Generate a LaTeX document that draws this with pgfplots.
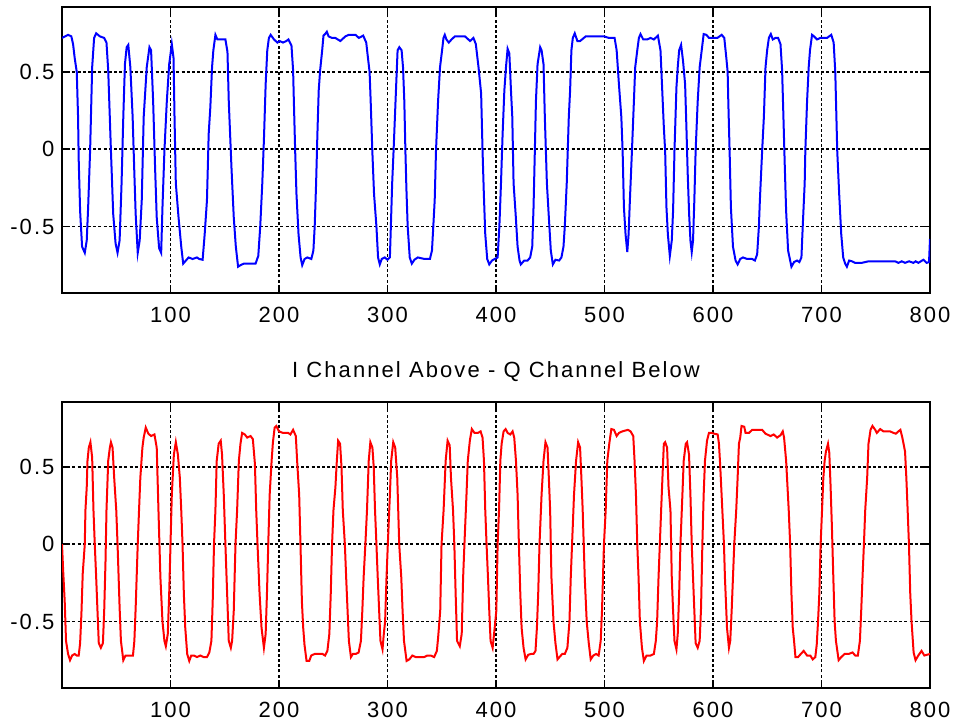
\documentclass[border=0pt]{standalone}
\usepackage{pgfplots}
\pgfplotsset{compat=1.18}
\usepackage{fontspec}
\setmainfont{Liberation Sans}[LetterSpace=9.5]
\newcommand{\myfont}{\fontsize{22}{26}\selectfont}
\pgfplotsset{
  myaxis/.style={
    scale only axis, width=868pt, height=286pt, anchor=south west,
    xmin=0, xmax=800, ymin=-0.93, ymax=0.92,
    xtick={100,200,300,400,500,600,700,800},
    xticklabels={100,200,300,400,500,600,700,800},
    ytick={-0.5,0,0.5}, yticklabels={-0.5,0,0.5},
    tick align=inside, major tick length=8pt,
    tick style={black, line width=1.6pt},
    axis line style={black, line width=1.8pt},
    grid=major,
    grid style={black, line width=1.7pt, dash pattern=on 3pt off 2.2pt},
    tick label style={font=\myfont},
    xticklabel style={yshift=-7pt},
    title style={font=\myfont},
  }
}
\begin{document}
\myfont
\begin{tikzpicture}
\useasboundingbox (0pt,0pt) rectangle (956pt,728pt);
\begin{axis}[myaxis, at={(62pt,435pt)}]
\addplot[blue, line width=2pt] coordinates {
(0,0.72)(5.6,0.74)(8.6,0.73)(10.2,0.68)(11.7,0.59)(13.6,0.50)(14.8,0.21)(15.4,-0.07)(16.7,-0.40)(18.5,-0.63)(21.0,-0.67)(22.8,-0.59)(24.1,-0.375)(25.9,-0.01)(27.8,0.53)(29.6,0.72)(31.5,0.75)(34.9,0.73)(38.9,0.72)(41.0,0.69)(42.6,0.51)(45.1,-0.01)(47.2,-0.42)(49.4,-0.61)(51.2,-0.67)(53.1,-0.59)(54.9,-0.22)(56.5,0.21)(58.0,0.55)(59.6,0.66)(61.1,0.675)(63.0,0.53)(65.1,0.21)(66.7,-0.16)(67.9,-0.42)(69.8,-0.67)(71.6,-0.59)(73.5,-0.33)(75.3,0.21)(78.1,0.53)(80.6,0.66)(82.1,0.64)(84.0,0.31)(85.8,-0.12)(87.3,-0.44)(89.5,-0.64)(91.4,-0.67)(92.6,-0.375)(94.4,-0.01)(96.6,0.31)(98.8,0.55)(101.2,0.68)(102.8,0.59)(103.7,0.21)(104.9,-0.22)(107.4,-0.44)(109.9,-0.63)(111.7,-0.74)(114.2,-0.72)(116.7,-0.70)(120.4,-0.71)(124.4,-0.70)(126.5,-0.71)(129.6,-0.715)(131.5,-0.55)(133.6,-0.33)(135.2,0.10)(136.7,0.27)(138.3,0.53)(139.5,0.64)(141.4,0.74)(143.2,0.71)(145.7,0.71)(148.1,0.71)(150.6,0.71)(152.5,0.63)(153.7,0.31)(156.2,-0.12)(158.3,-0.44)(160.2,-0.63)(162.3,-0.76)(164.5,-0.75)(167.6,-0.74)(171.6,-0.74)(175.3,-0.74)(178.4,-0.74)(180.9,-0.69)(182.7,-0.50)(184.6,-0.22)(186.1,0.06)(187.7,0.42)(189.2,0.64)(190.7,0.72)(192.3,0.74)(195.4,0.71)(198.5,0.69)
(200.6,0.70)(203.7,0.69)(206.8,0.70)(208.7,0.71)(211.5,0.67)(213.0,0.51)(213.7,0.31)(214.9,-0.01)(216.1,-0.29)(218.0,-0.55)(219.9,-0.70)(221.4,-0.75)(223.6,-0.71)(226.1,-0.70)(229.8,-0.71)(231.7,-0.655)(232.9,-0.50)(234.2,-0.22)(235.4,0.10)(236.6,0.38)(237.9,0.51)(239.8,0.64)(241.0,0.735)(242.5,0.745)(244.1,0.76)(245.7,0.73)(248.8,0.72)(251.9,0.72)(256.5,0.70)(261.2,0.73)(264.3,0.74)(270.5,0.74)(273.6,0.72)(277.6,0.735)(280.4,0.69)(282.0,0.59)(283.5,0.50)(284.5,0.31)(286.0,-0.01)(287.6,-0.29)(289.8,-0.50)(291.3,-0.70)(292.9,-0.745)(294.7,-0.71)(297.5,-0.70)(300.0,-0.715)(302.2,-0.70)(303.1,-0.50)(304.3,-0.22)(305.6,-0.01)(307.8,0.38)(309.3,0.64)(310.9,0.66)(313.0,0.64)(314.3,0.53)(315.5,0.31)(316.5,-0.01)(317.4,-0.25)(318.6,-0.50)(320.5,-0.70)(322.4,-0.74)(324.8,-0.715)(327.9,-0.70)(334.2,-0.71)(339.1,-0.71)(341.0,-0.655)(342.2,-0.50)(343.5,-0.33)(344.7,-0.01)(346.6,0.31)(348.4,0.53)(350.3,0.64)(351.6,0.72)(352.8,0.74)(354.3,0.71)(356.5,0.69)(359.0,0.71)(362.1,0.73)(371.4,0.73)(376.1,0.70)(379.2,0.72)(381.4,0.68)(383.9,0.53)(386.3,0.36)(387.6,-0.01)(388.8,-0.29)(390.1,-0.55)(391.9,-0.71)(393.8,-0.745)(396.3,-0.72)(398.8,-0.71)(401.5,-0.70)
(403.1,-0.50)(404.6,-0.22)(406.1,0.10)(407.7,0.38)(409.2,0.53)(410.7,0.65)(412.3,0.62)(413.8,0.38)(415.0,0.21)(416.2,-0.22)(418.1,-0.42)(419.9,-0.63)(421.7,-0.72)(422.9,-0.745)(426.0,-0.72)(429.1,-0.72)(431.5,-0.70)(433.4,-0.63)(434.6,-0.375)(435.8,-0.01)(436.8,0.31)(438.3,0.55)(440.7,0.66)(442.0,0.64)(443.8,0.55)(445.0,0.21)(446.9,-0.22)(448.7,-0.44)(450.5,-0.655)(452.4,-0.745)(454.8,-0.715)(458.2,-0.72)(460.3,-0.70)(462.2,-0.63)(463.4,-0.50)(465.2,-0.22)(467.1,0.21)(468.3,0.38)(469.5,0.64)(470.8,0.72)(472.6,0.75)(475.0,0.70)(477.5,0.70)(482.7,0.73)(499.5,0.73)(504.1,0.72)(509.3,0.72)(511.2,0.64)(513.3,0.42)(515.5,0.21)(516.7,-0.01)(517.9,-0.375)(519.4,-0.55)(521.0,-0.665)(522.2,-0.55)(523.4,-0.33)(525.3,-0.01)(527.1,0.31)(528.3,0.53)(530.2,0.64)(531.7,0.72)(533.2,0.745)(535.7,0.71)(539.4,0.71)(542.4,0.72)(545.5,0.71)(549.2,0.735)(551.6,0.64)(553.1,0.40)(554.7,0.14)(555.9,-0.01)(557.1,-0.375)(558.4,-0.55)(560.2,-0.69)(562.0,-0.59)(563.2,-0.40)(564.5,-0.01)(566.3,0.40)(567.5,0.53)(568.8,0.64)(570.6,0.675)(572.4,0.57)(574.3,0.42)(575.5,0.14)(576.7,-0.16)(578.0,-0.42)(579.2,-0.59)(580.4,-0.665)(581.6,-0.59)(582.8,-0.33)(584.0,-0.01)(585.9,0.31)(587.7,0.53)(589.6,0.64)(591.4,0.745)(593.9,0.74)(596.3,0.72)(600.0,0.72)
(604.0,0.72)(608.0,0.74)(610.4,0.72)(612.3,0.59)(613.5,0.50)(614.1,0.31)(615.3,-0.01)(616.5,-0.375)(618.4,-0.63)(620.8,-0.72)(622.7,-0.745)(625.1,-0.71)(627.6,-0.70)(631.5,-0.71)(636.1,-0.71)(638.6,-0.72)(640.7,-0.68)(642.3,-0.50)(643.2,-0.33)(645.3,-0.01)(646.9,0.21)(648.4,0.53)(649.9,0.64)(651.5,0.72)(653.3,0.745)(655.1,0.71)(657.6,0.72)(660.0,0.72)(662.2,0.68)(663.7,0.51)(664.9,0.21)(666.2,-0.12)(667.4,-0.40)(669.2,-0.655)(672.3,-0.76)(674.7,-0.73)(677.5,-0.72)(679.6,-0.73)(681.5,-0.70)(682.7,-0.50)(684.5,-0.22)(685.1,-0.01)(686.7,0.31)(688.2,0.53)(689.4,0.64)(691.3,0.74)(693.1,0.73)(695.9,0.71)(698.9,0.72)(702.0,0.72)(705.1,0.72)(709.0,0.74)(711.2,0.69)(712.7,0.50)(714.5,-0.01)(716.3,-0.29)(718.2,-0.55)(720.0,-0.70)(721.8,-0.74)(723.4,-0.76)(725.5,-0.72)(728.0,-0.725)(731.0,-0.735)(737.2,-0.735)(743.3,-0.725)(752.5,-0.725)(767.8,-0.725)(770.9,-0.735)(774.0,-0.725)(777.0,-0.735)(780.7,-0.725)(784.7,-0.735)(786.8,-0.725)(789.3,-0.735)(793.9,-0.715)(796.9,-0.735)(799.1,-0.73)(800,-0.58)
};
\end{axis}
\begin{axis}[myaxis, at={(62pt,40pt)},
  title={I Channel Above - Q Channel Below},
  title style={at={(0.5,1)}, anchor=base, yshift=19pt}]
\addplot[red, line width=2pt] coordinates {
(0,0.0)(1.2,-0.19)(2.5,-0.37)(3.7,-0.625)(5.6,-0.71)(7.4,-0.75)(9.3,-0.72)(11.7,-0.71)(13.6,-0.72)(15.4,-0.72)(16.7,-0.64)(17.9,-0.45)(19.1,-0.19)(21.0,0)(21.6,0.22)(22.8,0.37)(23.5,0.54)(24.7,0.625)(26.2,0.66)(27.8,0.56)(29.0,0.22)(30.2,0)(31.5,-0.215)(32.7,-0.43)(33.9,-0.64)(35.8,-0.67)(37.7,-0.64)(38.9,-0.43)(40.1,-0.11)(41.0,0.22)(42.6,0.54)(44.1,0.625)(45.1,0.66)(46.6,0.625)(48.1,0.43)(50.0,0.22)(51.2,0)(53.1,-0.41)(54.3,-0.625)(56.5,-0.75)(58.6,-0.72)(61.7,-0.72)(65.4,-0.72)(66.7,-0.625)(67.9,-0.41)(69.8,0)(71.0,0.22)(72.2,0.43)(74.1,0.625)(75.3,0.69)(77.2,0.755)(79.6,0.715)(82.1,0.70)(85.2,0.71)(87.3,0.625)(88.9,0.22)(90.7,-0.215)(92.6,-0.50)(94.4,-0.625)(95.7,-0.66)(97.5,-0.58)(98.8,-0.32)(100.0,0)(101.2,0.32)(103.1,0.58)(104.9,0.66)(106.8,0.58)(108.6,0.43)(109.9,0.22)(111.1,0)(112.3,-0.32)(113.6,-0.54)(115.4,-0.71)(117.3,-0.755)(119.1,-0.72)(121.6,-0.72)(124.4,-0.73)(127.5,-0.72)(130.6,-0.73)(133.6,-0.73)(135.8,-0.70)(137.7,-0.625)(138.9,-0.37)(140.1,0)(141.4,0.22)(142.6,0.54)(144.4,0.65)(146.3,0.67)(147.5,0.58)(149.1,0.32)(150.6,0)(152.2,-0.32)(153.7,-0.625)(155.6,-0.67)(156.8,-0.625)(158.3,-0.43)(159.9,0)(161.4,0.22)(163.0,0.54)(164.5,0.65)(166.0,0.72)(168.5,0.71)(170.7,0.69)(173.8,0.70)(175.9,0.68)(177.8,0.52)(179.0,0.22)(180.2,0)(182.1,-0.32)(183.9,-0.54)(186.1,-0.67)(187.7,-0.58)(188.9,-0.32)(190.1,0)(191.4,0.32)(193.2,0.54)(194.4,0.66)(196.0,0.755)(197.5,0.765)(200,0.73)
(203.7,0.72)(208.4,0.72)(210.5,0.71)(213.0,0.74)(215.5,0.70)(216.7,0.54)(218.6,0.32)(219.8,0)(221.1,-0.37)(222.3,-0.54)(223.5,-0.65)(225.4,-0.755)(227.9,-0.755)(229.7,-0.72)(232.8,-0.71)(236.2,-0.71)(240.2,-0.71)(242.4,-0.72)(244.6,-0.69)(246.4,-0.58)(247.7,-0.32)(248.9,0)(250.2,0.22)(252.0,0.37)(253.3,0.54)(254.5,0.67)(256.3,0.65)(257.6,0.50)(258.8,0.22)(260.7,0)(261.9,-0.215)(263.2,-0.43)(264.4,-0.625)(266.3,-0.73)(268.1,-0.71)(270.6,-0.71)(273.4,-0.70)(275.5,-0.625)(276.8,-0.43)(278.0,-0.215)(279.6,0)(281.1,0.22)(282.7,0.54)(284.2,0.66)(286.1,0.625)(287.3,0.50)(288.5,0.22)(289.8,0)(291.0,-0.215)(292.3,-0.43)(293.5,-0.625)(295.4,-0.68)(296.6,-0.58)(297.8,-0.50)(299.1,-0.215)(300.3,0)(302.2,0.32)(303.4,0.54)(305.3,0.66)(307.1,0.625)(309.0,0.43)(310.8,0)(312.7,-0.215)(313.9,-0.43)(315.2,-0.625)(317.6,-0.755)(320.1,-0.745)(322.9,-0.72)(326.0,-0.73)(330.0,-0.73)(333.7,-0.73)(336.8,-0.72)(339.9,-0.72)(343.0,-0.73)(345.5,-0.69)(346.7,-0.60)(348.6,-0.43)(349.8,0)(351.7,0.22)(353.6,0.54)(355.4,0.67)(357.3,0.64)(358.5,0.43)(360.4,0.22)(361.6,0)(362.8,-0.32)(364.1,-0.625)(366.6,-0.66)(368.4,-0.58)(369.7,-0.215)(370.9,0)(372.8,0.32)(374.0,0.54)(375.9,0.67)(377.7,0.745)(380.2,0.72)(383.3,0.72)(385.8,0.73)(387.6,0.69)(388.9,0.54)(390.1,0.22)(391.3,0)(392.6,-0.215)(393.8,-0.43)(395.0,-0.625)(396.9,-0.67)(398.8,-0.54)(400.3,-0.43)
(401.5,0)(402.8,0.22)(404.0,0.54)(405.2,0.65)(407.0,0.73)(408.9,0.745)(410.7,0.72)(413.2,0.71)(415.3,0.73)(416.8,0.69)(418.4,0.54)(419.9,0.32)(421.1,0)(422.4,-0.32)(423.6,-0.54)(425.4,-0.67)(427.3,-0.745)(429.7,-0.715)(432.2,-0.71)(434.6,-0.71)(436.4,-0.69)(437.7,-0.54)(438.9,-0.32)(440.1,0)(442.0,0.32)(443.8,0.54)(445.6,0.66)(447.5,0.625)(448.7,0.43)(449.9,0.22)(451.1,-0.215)(453.0,-0.50)(454.8,-0.64)(456.7,-0.745)(458.5,-0.73)(461.0,-0.71)(463.4,-0.71)(465.8,-0.67)(467.7,-0.50)(468.9,-0.215)(470.1,0)(471.9,0.32)(473.8,0.54)(475.7,0.66)(477.5,0.625)(478.7,0.43)(479.9,0.22)(481.8,-0.215)(483.6,-0.50)(485.5,-0.64)(487.3,-0.745)(489.7,-0.72)(492.2,-0.71)(494.6,-0.72)(496.5,-0.625)(497.7,-0.43)(499.5,0)(501.1,0.22)(502.6,0.54)(504.4,0.65)(506.3,0.745)(508.7,0.74)(511.2,0.70)(513.3,0.72)(516.4,0.73)(521.6,0.74)(524.0,0.73)(526.5,0.70)(527.7,0.54)(529.0,0.32)(530.2,0)(531.4,-0.215)(532.6,-0.50)(534.5,-0.67)(536.3,-0.755)(538.7,-0.72)(542.4,-0.72)(545.5,-0.71)(547.3,-0.625)(548.5,-0.50)(549.8,-0.215)(551.0,0)(552.2,0.22)(553.4,0.43)(554.7,0.65)(555.9,0.66)(557.7,0.625)(559.0,0.37)(560.8,0.22)(562.0,-0.215)(563.2,-0.43)(564.5,-0.625)(566.3,-0.68)(567.5,-0.58)(568.8,-0.32)(570.0,0)(571.8,0.32)(573.0,0.54)(574.9,0.65)(576.1,0.66)(577.9,0.58)(579.2,0.32)(580.4,0)(581.6,-0.215)(582.8,-0.43)(584.0,-0.64)(585.9,-0.67)(587.7,-0.625)(589.0,-0.41)(590.2,0)(591.4,0.32)(592.6,0.54)(594.5,0.67)(596.3,0.72)(598.8,0.72)(601.2,0.715)
(604.3,0.71)(605.5,0.65)(606.7,0.50)(608.6,0.22)(610.1,0)(611.0,-0.215)(612.9,-0.54)(614.7,-0.67)(615.9,-0.625)(617.2,-0.43)(618.4,-0.215)(619.6,0)(621.4,0.22)(622.7,0.43)(623.9,0.65)(625.1,0.69)(626.3,0.765)(628.8,0.76)(630.0,0.72)(633.1,0.72)(636.1,0.74)(645.3,0.74)(648.4,0.715)(653.0,0.70)(656.0,0.71)(659.1,0.69)(662.2,0.705)(664.3,0.73)(665.5,0.69)(667.4,0.54)(669.8,0.22)(671.1,0)(672.3,-0.32)(673.5,-0.54)(674.7,-0.625)(676.0,-0.73)(678.4,-0.73)(680.9,-0.71)(683.6,-0.69)(686.7,-0.72)(689.7,-0.72)(691.9,-0.745)(694.3,-0.73)(695.6,-0.65)(696.8,-0.50)(698.0,-0.32)(699.2,0)(700.5,0.22)(701.7,0.43)(702.9,0.54)(704.1,0.60)(706.0,0.65)(707.2,0.59)(708.4,0.37)(709.6,0.11)(710.9,-0.215)(712.1,-0.50)(713.3,-0.625)(715.8,-0.75)(718.2,-0.73)(721.3,-0.71)(725.0,-0.71)(728.6,-0.70)(731.1,-0.72)(733.5,-0.72)(735.4,-0.625)(736.6,-0.43)(737.8,-0.215)(739.1,0)(740.3,0.22)(742.1,0.43)(743.3,0.65)(745.2,0.74)(747.0,0.765)(749.5,0.74)(751.0,0.72)(754.1,0.745)(757.1,0.73)(763.3,0.73)(766.3,0.72)(768.5,0.715)(770.9,0.73)(772.7,0.74)(774.5,0.69)(777.0,0.60)(778.2,0.43)(779.4,0.22)(780.6,0)(781.8,-0.32)(783.0,-0.50)(784.9,-0.70)(786.7,-0.75)(789.2,-0.72)(792.2,-0.69)(794.8,-0.72)(797.2,-0.715)(800,-0.71)
};
\end{axis}
\end{tikzpicture}
\end{document}
